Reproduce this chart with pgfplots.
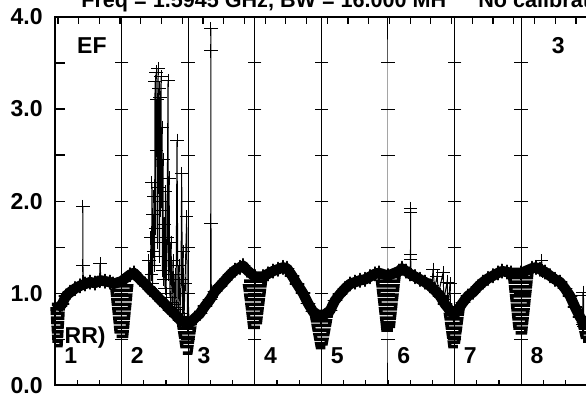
\documentclass[border=0pt]{standalone}
\usepackage{pgfplots}
\pgfplotsset{compat=1.18}
\usepackage{fontspec}
\setmainfont{Liberation Sans}
\newcommand\lbl{\fontsize{11.5bp}{13bp}\selectfont\bfseries}
\newcommand\ttl{\fontsize{10.8bp}{13bp}\selectfont\bfseries}

\begin{document}
\begin{tikzpicture}
\pgfplotsset{base/.style={at={(0,0)}, anchor=south west, scale only axis,
  width=266.4bp, height=184.2bp, xmin=0, xmax=8, ymin=0, ymax=4,
  axis line style={line width=0.8bp, black}, tick style={line width=0.6bp, black}}}
% bottom ticks
\begin{axis}[base, xtick={0,1,2,3,4,5,6,7,8}, minor x tick num=2, xtick pos=left,
  xticklabels={}, ytick=\empty, major tick length=2.6bp, minor tick length=2.6bp]
\end{axis}
% top ticks
\begin{axis}[base, xtick={0.044,0.355,0.666,0.977,1.288,1.600,1.911,2.222,2.533,2.844,3.155,3.466,3.777,4.088,4.400,4.711,5.022,5.333,5.644,5.955,6.266,6.577,6.888,7.199,7.510,7.822},
  xtick pos=right, xticklabels={}, ytick=\empty, major tick length=3.3bp]
\end{axis}
% main
\begin{axis}[base, clip=false, xtick=\empty,
  ytick={0,1,2,3,4}, minor ytick={0.5,1.5,2.5,3.5}, ytick pos=left,
  major tick length=5bp, minor tick length=5bp,
  /pgf/number format/assume math mode=true,
  yticklabel style={font=\lbl, anchor=east, inner sep=0pt, xshift=-6bp},
  yticklabel={\pgfmathprintnumber[fixed,fixed zerofill,precision=1,assume math mode=true]{\tick}}]

% grid lines with cross ticks
\pgfplotsinvokeforeach{1,2,3,4,5,6,7}{
\addplot[black, line width=0.5bp, mark=-, mark size=3.35bp, mark options={line width=0.5bp}]
 coordinates {(#1,0)(#1,0.5)(#1,1)(#1,1.5)(#1,2)(#1,2.5)(#1,3)(#1,3.5)(#1,4)};
}

% hatched notches and valleys
\pgfplotsset{hatch/.style={black, line width=1.75bp, no markers}}
\addplot[hatch] coordinates {(-0.047,0.88)(0.127,0.88)(0.123,0.83)(-0.043,0.83)(-0.039,0.78)(0.119,0.78)(0.115,0.73)(-0.035,0.73)(-0.031,0.68)(0.111,0.68)(0.106,0.63)(-0.026,0.63)(-0.022,0.58)(0.102,0.58)(0.098,0.53)(-0.018,0.53)(-0.014,0.48)(0.094,0.48)(0.090,0.43)(-0.010,0.43)};
\addplot[hatch] coordinates {(0.850,1.08)(1.150,1.08)(1.143,1.03)(0.857,1.03)(0.864,0.98)(1.136,0.98)(1.130,0.93)(0.870,0.93)(0.877,0.88)(1.123,0.88)(1.116,0.83)(0.884,0.83)(0.891,0.78)(1.109,0.78)(1.102,0.73)(0.898,0.73)(0.905,0.68)(1.095,0.68)(1.089,0.63)(0.911,0.63)(0.918,0.58)(1.082,0.58)(1.075,0.53)(0.925,0.53)};
\addplot[hatch] coordinates {(1.845,0.72)(2.115,0.72)(2.105,0.67)(1.855,0.67)(1.865,0.62)(2.095,0.62)(2.085,0.57)(1.875,0.57)(1.886,0.52)(2.074,0.52)(2.064,0.47)(1.896,0.47)(1.906,0.42)(2.054,0.42)(2.040,0.35)(1.920,0.35)};
\addplot[hatch] coordinates {(2.840,1.13)(3.160,1.13)(3.152,1.08)(2.848,1.08)(2.857,1.03)(3.143,1.03)(3.135,0.98)(2.865,0.98)(2.874,0.93)(3.126,0.93)(3.118,0.88)(2.882,0.88)(2.891,0.83)(3.109,0.83)(3.101,0.78)(2.899,0.78)(2.908,0.73)(3.092,0.73)(3.084,0.68)(2.916,0.68)(2.925,0.63)(3.075,0.63)};
\addplot[hatch] coordinates {(3.840,0.80)(4.160,0.80)(4.147,0.75)(3.853,0.75)(3.866,0.70)(4.134,0.70)(4.122,0.65)(3.878,0.65)(3.891,0.60)(4.109,0.60)(4.096,0.55)(3.904,0.55)(3.917,0.50)(4.083,0.50)(4.070,0.45)(3.930,0.45)(3.940,0.41)(4.060,0.41)};
\addplot[hatch] coordinates {(4.835,1.18)(5.165,1.18)(5.157,1.13)(4.843,1.13)(4.851,1.08)(5.149,1.08)(5.142,1.03)(4.858,1.03)(4.866,0.98)(5.134,0.98)(5.126,0.93)(4.874,0.93)(4.882,0.88)(5.118,0.88)(5.111,0.83)(4.889,0.83)(4.897,0.78)(5.103,0.78)(5.095,0.73)(4.905,0.73)(4.913,0.68)(5.087,0.68)(5.081,0.64)(4.919,0.64)(4.925,0.60)(5.075,0.60)};
\addplot[hatch] coordinates {(5.855,0.82)(6.125,0.82)(6.116,0.77)(5.864,0.77)(5.874,0.72)(6.106,0.72)(6.097,0.67)(5.883,0.67)(5.892,0.62)(6.088,0.62)(6.078,0.57)(5.902,0.57)(5.911,0.52)(6.069,0.52)(6.059,0.47)(5.921,0.47)(5.930,0.42)(6.050,0.42)};
\addplot[hatch] coordinates {(6.820,1.22)(7.160,1.22)(7.153,1.17)(6.827,1.17)(6.835,1.12)(7.145,1.12)(7.138,1.07)(6.842,1.07)(6.849,1.02)(7.131,1.02)(7.123,0.97)(6.857,0.97)(6.864,0.92)(7.116,0.92)(7.109,0.87)(6.871,0.87)(6.878,0.82)(7.102,0.82)(7.094,0.77)(6.886,0.77)(6.893,0.72)(7.087,0.72)(7.080,0.67)(6.900,0.67)(6.908,0.62)(7.072,0.62)(7.065,0.57)(6.915,0.57)};
\addplot[hatch] coordinates {(7.855,0.72)(8.125,0.72)(8.109,0.67)(7.871,0.67)(7.886,0.62)(8.094,0.62)(8.078,0.57)(7.902,0.57)(7.917,0.52)(8.063,0.52)(8.050,0.48)(7.930,0.48)};

% main band
\addplot[black, line width=5.2bp, line join=round, line cap=round, mark=+, mark size=3.4bp, mark options={line width=0.8bp}] coordinates {
(0.075,0.86)(0.105,0.88)(0.165,0.97)(0.225,1.01)(0.30,1.05)(0.375,1.08)(0.45,1.10)(0.525,1.12)(0.60,1.11)(0.675,1.14)(0.75,1.13)(0.826,1.12)(0.871,1.10)(1.0,1.13)(1.126,1.20)(1.186,1.22)(1.276,1.15)(1.351,1.10)(1.426,1.04)(1.502,0.99)(1.577,0.93)(1.652,0.88)(1.727,0.82)(1.802,0.77)(1.877,0.71)(1.997,0.66)(2.102,0.73)(2.177,0.78)(2.252,0.86)(2.327,0.93)(2.402,1.02)(2.477,1.08)(2.553,1.14)(2.628,1.20)(2.703,1.25)(2.778,1.28)(2.823,1.30)(2.883,1.25)(3.0,1.18)(3.123,1.18)(3.198,1.21)(3.273,1.24)(3.348,1.26)(3.423,1.28)(3.483,1.27)(3.559,1.19)(3.634,1.10)(3.724,1.00)(3.799,0.89)(3.874,0.80)(3.994,0.74)(4.129,0.81)(4.204,0.92)(4.279,0.99)(4.354,1.05)(4.429,1.10)(4.505,1.12)(4.580,1.14)(4.655,1.15)(4.730,1.18)(4.805,1.21)(4.865,1.22)(5.0,1.19)(5.165,1.24)(5.210,1.27)(5.270,1.24)(5.330,1.21)(5.405,1.18)(5.480,1.15)(5.556,1.12)(5.631,1.08)(5.706,1.03)(5.781,0.97)(5.856,0.88)(5.991,0.76)(6.126,0.90)(6.201,0.97)(6.276,1.01)(6.351,1.07)(6.426,1.12)(6.502,1.16)(6.577,1.19)(6.652,1.22)(6.712,1.24)(6.787,1.23)(6.847,1.22)(7.0,1.22)(7.162,1.27)(7.222,1.28)(7.282,1.26)(7.357,1.23)(7.432,1.19)(7.508,1.15)(7.583,1.12)(7.658,1.05)(7.733,0.97)(7.808,0.85)(7.883,0.74)(7.943,0.68)(7.99,0.66)};

% spikes
\pgfplotsset{spike/.style={black, line width=0.5bp, mark=+, mark size=3.35bp, mark options={line width=0.5bp}}}
\addplot[spike] coordinates {(0.42,1.12)(0.42,1.94)(0.42,1.30)(0.425,1.12)};
\addplot[spike] coordinates {(0.670,1.13)(0.676,1.32)(0.69,1.14)};
\addplot[spike] coordinates {(1.396,1.07)(1.411,1.35)(1.426,1.05)(1.441,1.60)(1.449,1.20)(1.456,2.20)(1.464,1.10)(1.471,1.85)(1.479,1.45)(1.486,2.05)(1.494,1.30)(1.502,3.30)(1.509,1.70)(1.517,3.40)(1.524,2.55)(1.532,3.10)(1.539,1.55)(1.547,3.44)(1.554,2.15)(1.562,3.22)(1.569,1.40)(1.577,3.12)(1.584,1.90)(1.592,3.35)(1.599,2.00)(1.607,2.80)(1.614,1.25)(1.622,2.45)(1.629,1.15)(1.637,1.75)(1.652,1.05)(1.659,2.10)(1.667,1.00)(1.682,1.60)(1.697,3.31)(1.704,1.20)(1.712,2.25)(1.727,0.95)(1.742,1.55)(1.757,0.90)(1.772,1.35)(1.787,0.88)(1.802,1.20)(1.817,0.85)(1.832,2.66)(1.847,0.82)(1.862,1.30)(1.877,0.78)(1.892,1.15)(1.902,2.30)(1.914,0.75)(1.922,1.45)(1.937,0.72)(1.952,1.10)(1.977,1.83)(1.989,0.70)(1.997,1.00)(2.012,0.70)};
\addplot[spike] coordinates {(2.337,0.93)(2.342,3.87)(2.342,3.63)(2.342,1.76)(2.347,0.95)};
\addplot[spike] coordinates {(5.336,1.21)(5.341,1.92)(5.341,1.88)(5.341,1.42)(5.341,1.37)(5.346,1.20)};
\addplot[spike] coordinates {(5.66,1.08)(5.676,1.26)(5.70,1.05)(5.736,1.18)(5.76,1.00)(5.826,1.22)(5.84,0.93)(5.886,1.12)(5.90,0.86)(5.931,1.10)(5.94,0.82)};
\addplot[spike] coordinates {(7.30,1.25)(7.308,1.35)(7.315,1.24)};
\addplot[spike] coordinates {(7.92,0.66)(7.928,1.01)(7.935,0.98)(7.94,0.64)};

% texts
\node[anchor=base west, inner sep=0pt, font=\ttl] at (axis cs:0.39,4.10) {Freq = 1.5945 GHz, BW = 16.000 MH};
\node[anchor=base west, inner sep=0pt, font=\ttl] at (axis cs:6.351,4.10) {No calibration};
\node[anchor=base west, inner sep=0pt, font=\lbl] at (axis cs:0.327,3.60) {EF};
\node[anchor=base west, inner sep=0pt, font=\lbl] at (axis cs:7.455,3.60) {3};
\node[anchor=base west, inner sep=0pt, font=\lbl] at (axis cs:0.14,0.459) {RR)};
\node[anchor=base west, inner sep=0pt, font=\lbl] at (axis cs:0.135,0.242) {1};
\node[anchor=base west, inner sep=0pt, font=\lbl] at (axis cs:1.135,0.242) {2};
\node[anchor=base west, inner sep=0pt, font=\lbl] at (axis cs:2.135,0.242) {3};
\node[anchor=base west, inner sep=0pt, font=\lbl] at (axis cs:3.135,0.242) {4};
\node[anchor=base west, inner sep=0pt, font=\lbl] at (axis cs:4.135,0.242) {5};
\node[anchor=base west, inner sep=0pt, font=\lbl] at (axis cs:5.135,0.242) {6};
\node[anchor=base west, inner sep=0pt, font=\lbl] at (axis cs:6.135,0.242) {7};
\node[anchor=base west, inner sep=0pt, font=\lbl] at (axis cs:7.135,0.242) {8};
\end{axis}
\pgfresetboundingbox
\path[use as bounding box] (-27.5bp,-5.35bp) rectangle (265.5bp,192.65bp);
\end{tikzpicture}
\end{document}
